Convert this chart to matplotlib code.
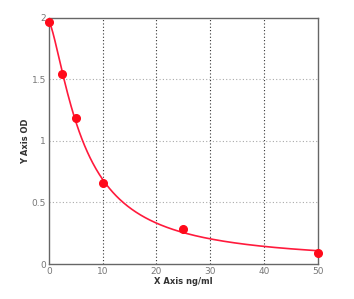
import numpy as np
import matplotlib
matplotlib.use("Agg")
import matplotlib.pyplot as plt

conc = [0, 2.5, 5, 10, 25, 50]
od = [1.97, 1.545, 1.19, 0.656, 0.285, 0.092]
x_ticks = [0, 10, 20, 30, 40, 50]
y_ticks = [0, 0.5, 1, 1.5, 2]
y_tick_labels = ["0", "0.5", "1", "1.5", "2"]

xd = np.array(conc, float)
yd = np.array(od, float)

# 4-parameter logistic fit: grid over (b, c), linear solve for (a, d)
best = None
for b in np.linspace(0.5, 3.0, 126):
    for c in np.linspace(1.0, 60.0, 296):
        g = 1.0 / (1.0 + (xd / c) ** b)
        A = np.column_stack([g, 1 - g])
        sol, *_ = np.linalg.lstsq(A, yd, rcond=None)
        err = np.sum((A @ sol - yd) ** 2)
        if best is None or err < best[0]:
            best = (err, b, c, sol)
_, b, c, (a, d) = best
xs = np.linspace(0, 50, 400)
gs = 1.0 / (1.0 + (xs / c) ** b)
ys = a * gs + d * (1 - gs)

fig = plt.figure(figsize=(3.54, 2.99), dpi=100)
ax = fig.add_axes([0.138, 0.117, 0.76, 0.823])
ax.plot(xs, ys, color="#ff1a3c", lw=1.2, zorder=3)
ax.plot(conc, od, "o", color="#ff0a1a", ms=5.5, zorder=4, clip_on=False)

ax.set_xlim(0, 50)
ax.set_ylim(0, 2)
ax.set_xticks(x_ticks)
ax.set_yticks(y_ticks)
ax.set_yticklabels(y_tick_labels)
ax.tick_params(length=0, labelsize=6.5, labelcolor="#777777", pad=2)
for xv in x_ticks[1:-1]:
    ax.axvline(xv, color="#333333", ls=(0, (1, 2)), lw=0.8, zorder=1)
for yv in y_ticks[1:-1]:
    ax.axhline(yv, color="#aaaaaa", ls=(0, (1, 2)), lw=0.8, zorder=1)
for s in ax.spines.values():
    s.set_color("#666666")
    s.set_linewidth(1.0)
ax.set_xlabel("X Axis ng/ml", fontsize=6, fontweight="bold", color="#333333", labelpad=1)
ax.set_ylabel("Y Axis OD", fontsize=6, fontweight="bold", color="#333333", labelpad=1)
fig.savefig("out.png", dpi=100)
